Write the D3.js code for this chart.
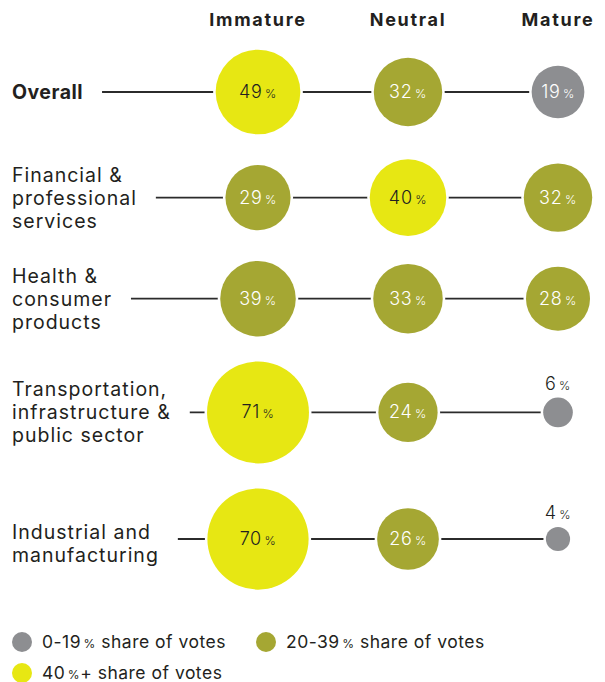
<!DOCTYPE html>
<html>
<head>
<meta charset="utf-8">
<script src="https://cdn.jsdelivr.net/npm/d3@7"></script>
<style>
  html, body { margin: 0; padding: 0; background: #fff; }
  svg { display: block; font-family: "Inter", "Noto Sans", sans-serif; }
</style>
</head>
<body>
<svg id="chart" width="605" height="682"></svg>
<script>
// Maturity columns and sector rows
const columns = ["Immature", "Neutral", "Mature"];
const categories = [
  "Overall",
  "Financial & professional services",
  "Health & consumer products",
  "Transportation, infrastructure & public sector",
  "Industrial and manufacturing"
];
const categoryLines = [
  ["Overall"],
  ["Financial &", "professional", "services"],
  ["Health &", "consumer", "products"],
  ["Transportation,", "infrastructure &", "public sector"],
  ["Industrial and", "manufacturing"]
];
// Share of votes (%) per column
const immature = [49, 29, 39, 71, 70];
const neutral  = [32, 40, 33, 24, 26];
const mature   = [19, 32, 28, 6, 4];

const legendItems = [
  { label: "0-19", suffix: " share of votes", band: 0 },
  { label: "20-39", suffix: " share of votes", band: 1 },
  { label: "40", suffix: "+ share of votes", band: 2 }
];

const COLORS = ["#8d8e91", "#a5a733", "#e7e713"];
const DARK = "#231f20";
const bandOf = v => v < 20 ? 0 : (v < 40 ? 1 : 2);

const svg = d3.select("#chart");

const x = d3.scalePoint().domain(columns).range([258, 558]);
const r = d3.scaleSqrt().domain([0, 100]).range([0, 60.5]);

const rows = categories.map((c, i) => ({
  name: c,
  lines: categoryLines[i],
  values: [immature[i], neutral[i], mature[i]]
}));

// Stack rows: each row sits below the previous by the two largest radii plus a gap
rows.forEach((row, i) => {
  row.maxR = d3.max(row.values, v => r(v));
  row.y = i === 0 ? 92 : rows[i - 1].y + rows[i - 1].maxR + row.maxR + 25;
});

// Column headers
svg.append("g").selectAll("text")
  .data(columns)
  .join("text")
  .attr("x", d => x(d))
  .attr("y", 26)
  .attr("text-anchor", "middle")
  .attr("font-size", 18)
  .attr("font-weight", 700)
  .attr("letter-spacing", 1.7)
  .attr("fill", DARK)
  .text(d => d);

const rowG = svg.append("g").selectAll("g.row")
  .data(rows)
  .join("g")
  .attr("class", "row")
  .attr("transform", d => `translate(0,${d.y})`);

// Row labels
const lineH = 23;
rowG.each(function(d, i) {
  const g = d3.select(this);
  const n = d.lines.length;
  const t = g.append("text")
    .attr("x", 12)
    .attr("font-size", 19.5)
    .attr("font-weight", i === 0 ? 700 : 400)
    .attr("letter-spacing", i === 0 ? 0.5 : 1.0)
    .attr("fill", DARK);
  d.lines.forEach((ln, k) => {
    t.append("tspan")
      .attr("x", 12)
      .attr("y", (k - (n - 1) / 2) * lineH + 7 + (n === 2 ? 4 : 0))
      .text(ln);
  });
  d.labelEnd = 12 + t.node().getBBox().width;
});

// Connector line from label to last column
rowG.append("line")
  .attr("x1", d => d.labelEnd + 19)
  .attr("x2", x(columns[columns.length - 1]))
  .attr("y1", 0).attr("y2", 0)
  .attr("stroke", "#2b2b2b")
  .attr("stroke-width", 1.8);

// Bubbles, with a white halo that breaks the connector line
const cells = rowG.selectAll("g.cell")
  .data(d => d.values.map((v, j) => ({ v, col: columns[j] })))
  .join("g")
  .attr("class", "cell")
  .attr("transform", d => `translate(${x(d.col)},0)`);

cells.append("circle")
  .attr("r", d => r(d.v) + 2.5)
  .attr("fill", "#fff");

cells.append("circle")
  .attr("r", d => r(d.v))
  .attr("fill", d => COLORS[bandOf(d.v)]);

function pctText(sel, num, bigSize, smallSize) {
  sel.append("tspan").attr("font-size", bigSize).text(num);
  sel.append("tspan").attr("font-size", smallSize).attr("dx", 2.5).text("%");
}

cells.each(function(d) {
  const g = d3.select(this);
  const rad = r(d.v);
  const inside = rad > 20;
  const t = g.append("text")
    .attr("text-anchor", "middle")
    .attr("y", inside ? 6 : -rad - 8)
    .attr("fill", inside && bandOf(d.v) < 2 ? "#fff" : DARK)
    .attr("font-weight", 300)
    .attr("letter-spacing", 0.7);
  pctText(t, d.v, 18, 12);
});

// Legend
const legendPos = [[22, 642], [266, 642], [22, 673]];
const lg = svg.append("g").selectAll("g")
  .data(legendItems)
  .join("g")
  .attr("transform", (d, i) => `translate(${legendPos[i][0]},${legendPos[i][1]})`);
lg.append("circle").attr("r", 10).attr("fill", d => COLORS[d.band]);
lg.each(function(d) {
  const t = d3.select(this).append("text")
    .attr("x", 20).attr("y", 6)
    .attr("fill", DARK)
    .attr("letter-spacing", 0.5);
  t.append("tspan").attr("font-size", 17.5).text(d.label);
  t.append("tspan").attr("font-size", 12).attr("dx", 2.5).text("%");
  t.append("tspan").attr("font-size", 17.5).text(d.suffix);
});
</script>
</body>
</html>
